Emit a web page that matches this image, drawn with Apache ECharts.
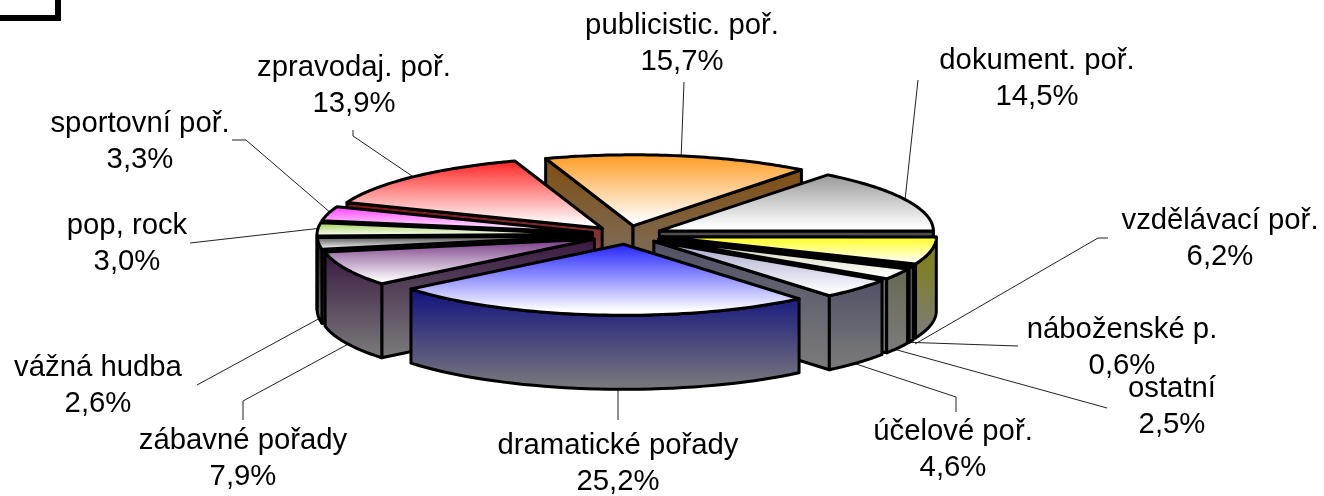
<!DOCTYPE html>
<html><head><meta charset="utf-8">
<style>html,body{margin:0;padding:0;background:#fff}#c{width:1324px;height:496px}</style>
<script src="https://cdn.jsdelivr.net/npm/echarts@6/dist/echarts.min.js"></script>
</head><body><div id="c"></div>
<script>
const categories = ['publicistic. poř.','dokument. poř.','vzdělávací poř.','náboženské p.','ostatní','účelové poř.','dramatické pořady','zábavné pořady','vážná hudba','pop, rock','sportovní poř.','zpravodaj. poř.'];
const shares = [15.7,14.5,6.2,0.6,2.5,4.6,25.2,7.9,2.6,3.0,3.3,13.9];
const colors = ['#ff9a1f','#969696','#ffff10','#ddd0d0','#cfcfa8','#a0a0cc','#1f1fff','#70307f','#303030','#99cc44','#ff33ff','#ff1f1f'];
// layout of the labels and their leader lines
const labelAt = [[682,26],[1037,61],[1220,221],[1122,330],[1172,389],[953,432],[618,446],[243,441],[98,368],[127,226],[140,124],[354,68]];
const leaders = [
 [[684,82],[681,160]],
 [[918,80],[905,200]],
 [[1108,238],[1098,238],[915,344]],
 [[1018,346],[900,342]],
 [[1107,408],[890,348]],
 [[956,412],[956,397],[850,362]],
 [[618,420],[618,388]],
 [[243,420],[243,401],[352,342]],
 [[197,385],[322,317]],
 [[190,243],[322,228]],
 [[232,140],[246,140],[332,214]],
 [[353,130],[353,136],[415,178]]
];
const startAngle = -18.6, cx = 627, cy = 235, rx = 274, ry = 71, depth = 74, explode = 36;
const rad = d => d * Math.PI / 180;
const total = shares.reduce((a,b)=>a+b,0);
let acc = startAngle;
const spans = shares.map(v => { const a = acc; acc += v / total * 360; return [a, acc]; });
function mix(hex, t, to){ const n=parseInt(hex.slice(1),16), c=[n>>16&255,n>>8&255,n&255], d=to||[0,0,0];
  return 'rgb('+c.map((x,i)=>Math.round(x*(1-t)+d[i]*t)).join(',')+')'; }
function grad(a,b,end){ return {type:'linear',x:0,y:0,x2:0,y2:1,colorStops:[{offset:0,color:a},{offset:end,color:b},{offset:1,color:b}]}; }
function renderSlice(params, api){
  const i = api.value(1), [a1,a2] = spans[i], mid = (a1+a2)/2;
  const ox = cx + explode*Math.sin(rad(mid)), oy = cy - explode*ry/rx*Math.cos(rad(mid));
  const P = (a,d) => [ox + rx*Math.sin(rad(a)), oy - ry*Math.cos(rad(a)) + (d||0)];
  const order = Math.round((1 - Math.cos(rad(mid))) * 100) * 10;
  const st = {stroke:'#000', lineWidth:3, lineJoin:'round'};
  const side = Object.assign({fill:grad(mix(colors[i],0.5),'#7c7c7c',1)}, st);
  const kids = [];
  const face = a => ({type:'polygon', z2:order+1, shape:{points:[[ox,oy],P(a),P(a,depth),[ox,oy+depth]]}, style:side});
  if (Math.sin(rad(a1)) < 0) kids.push(face(a1));
  if (Math.sin(rad(a2)) > 0) kids.push(face(a2));
  const w1 = Math.max(a1,90), w2 = Math.min(a2,270);
  if (w2 > w1) {
    const up=[], down=[];
    for (let k=0;k<=40;k++){ const a=w1+(w2-w1)*k/40; up.push(P(a)); down.unshift(P(a,depth)); }
    kids.push({type:'polygon', z2:order+2, shape:{points:up.concat(down)}, style:side});
  }
  const top=[[ox,oy]];
  for (let k=0;k<=60;k++) top.push(P(a1+(a2-a1)*k/60));
  kids.push({type:'polygon', z2:order+3, shape:{points:top}, style:Object.assign({fill:grad(colors[i],'#ffffff',0.92)}, st)});
  kids.push({type:'polyline', z2:0, shape:{points:leaders[i]}, style:{stroke:'#222',lineWidth:1,fill:null}});
  const font='29.3px "Liberation Sans", Arial, sans-serif';
  const [tx,ty]=labelAt[i];
  kids.push({type:'text', z2:20000, style:{text:categories[i], x:tx, y:ty, font, fill:'#000', align:'center', verticalAlign:'middle'}});
  kids.push({type:'text', z2:20000, style:{text:shares[i].toFixed(1).replace('.',',')+'%', x:tx, y:ty+36, font, fill:'#000', align:'center', verticalAlign:'middle'}});
  return {type:'group', children:kids};
}
const chart = echarts.init(document.getElementById('c'), null, {renderer:'canvas'});
chart.setOption({
  animation:false,
  backgroundColor:'#fff',
  graphic:[{type:'polyline', shape:{points:[[-5,18],[58,18],[58,-5]]}, style:{stroke:'#000',lineWidth:6,fill:null,lineJoin:'miter'}}],
  series:[{type:'custom', coordinateSystem:'none', silent:true, clip:false,
    data: shares.map((v,i)=>[v,i]), renderItem:renderSlice}]
});
</script></body></html>
